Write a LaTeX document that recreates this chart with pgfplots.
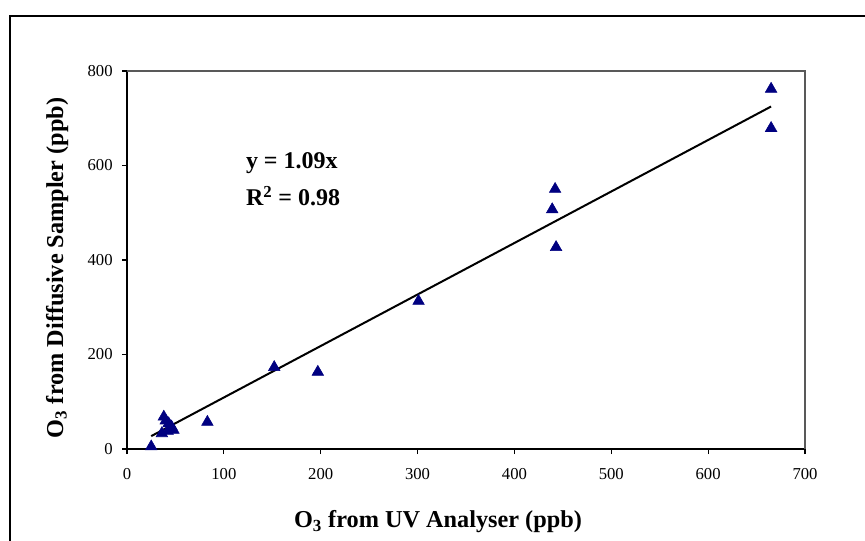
\documentclass[border=0pt]{standalone}
\usepackage{fontspec}
\setmainfont{Liberation Serif}
\usepackage{pgfplots}
\pgfplotsset{compat=1.18}
\definecolor{navyblue}{RGB}{0,0,128}
\begin{document}
\begin{tikzpicture}[x=0.75pt,y=0.75pt]
\draw[line width=0.9pt] (10,-20) rectangle (867,524);
\begin{axis}[
  at={(95.25pt,68.25pt)}, anchor=origin,
  scale only axis, width=508.5pt, height=283.5pt,
  xmin=0, xmax=700, ymin=0, ymax=800,
  xtick={0,100,...,700}, ytick={0,200,...,800},
  axis x line*=bottom, axis y line*=left,
  axis line style={black, line width=0.9pt},
  tick align=outside, major tick length=3.75pt,
  tick style={black, line width=0.8pt},
  /pgf/number format/assume math mode=true,
  ticklabel style={font=\fontsize{12.5}{12.5}\selectfont},
  xticklabel style={yshift=-7.5pt},
  yticklabel style={xshift=-3.5pt},
  label style={font=\fontsize{18.2}{21}\selectfont\bfseries},
  xlabel={O\textsubscript{3} from UV Analyser (ppb)},
  ylabel={O\textsubscript{3} from Diffusive Sampler (ppb)},
  xlabel style={at={(axis description cs:0.4587,-0.193)}, anchor=center},
  ylabel style={at={(axis description cs:-0.103,0.479)}, anchor=center},
  clip=false,
]
\draw[gray!70!black, line width=0.8pt] (rel axis cs:0,1) -- (rel axis cs:1,1) -- (rel axis cs:1,0);
\addplot[black, line width=1.5pt] coordinates {(25,27.25) (665,724.85)};
\addplot[only marks, mark=triangle*, mark size=5pt, mark options={fill=navyblue, draw=navyblue}] coordinates {
(25,5) (36,33) (38,68) (40,60) (42,38) (43,54) (46,47) (48,40)
(83,57) (152,173) (197,163) (301,313)
(439,507) (442,550) (443,427) (665,762) (665,679)
};
\node[anchor=west, font=\fontsize{18}{21}\selectfont\bfseries] at (axis cs:118,606) {y = 1.09x};
\node[anchor=west, font=\fontsize{18}{21}\selectfont\bfseries] at (axis cs:118,535) {R\textsuperscript{2} = 0.98};
\end{axis}
\pgfresetboundingbox
\path[use as bounding box] (0,0) rectangle (865,540);
\end{tikzpicture}
\end{document}
